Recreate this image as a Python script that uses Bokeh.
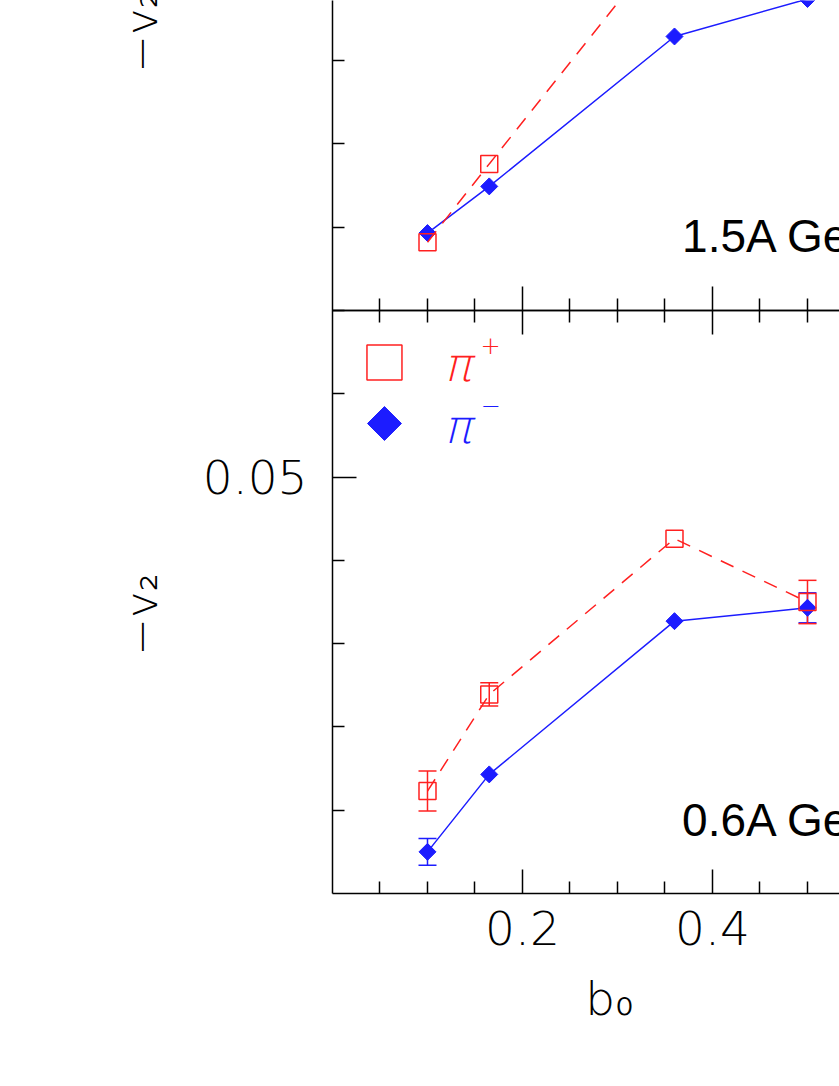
import numpy as np
from bokeh.plotting import figure
from bokeh.models import (Range1d, LinearAxis, FixedTicker, Whisker, TeeHead,
                          ColumnDataSource, Label)
from bokeh.embed import file_html
from bokeh.resources import INLINE

# ---------------- data ----------------
b0 = [0.10, 0.165, 0.36, 0.50]

# 0.6A GeV (lower panel)
v2_pip_06 = [0.0123, 0.0239, 0.0426, 0.0350]
err_pip_06 = [0.0024, 0.0014, 0.0, 0.0026]
v2_pim_06 = [0.0050, 0.0143, 0.0327, 0.0343]
err_pim_06 = [0.0016, 0.0, 0.0, 0.0018]

# 1.5A GeV (upper panel)
v2_pip_15 = [0.0082, 0.0176, 0.0455, 0.0500]
v2_pim_15 = [0.0093, 0.0149, 0.0329, 0.0374]

x_major = [0.2, 0.4, 0.6]
x_minor = [0.05, 0.1, 0.15, 0.25, 0.3, 0.35, 0.45, 0.5, 0.55]
y_major = [0.05]
y_minor = [0.01, 0.02, 0.03, 0.04, 0.06, 0.07]
y_minor_top = [0.01, 0.02, 0.03, 0.04]

panel_labels = ["1.5A GeV", "0.6A GeV"]
series_names = ["π", "π"]
series_charges = ["+", "−"]

RED = "#ff2020"
BLUE = "#1c1cff"
THIN = "DejaVu Sans Light"

# ---------------- figure ----------------
p = figure(width=839, height=1086, output_backend="svg", toolbar_location=None,
           x_range=Range1d(0, 0.5337), y_range=Range1d(0, 0.10722),
           min_border_left=332, min_border_right=0, min_border_top=0,
           min_border_bottom=193)
p.extra_y_ranges = {"top": Range1d(-0.07, 0.03722)}
p.outline_line_color = None
p.grid.visible = False
p.background_fill_color = "white"
p.border_fill_color = "white"


def style_axis(ax, ticks, minor):
    ax.ticker = FixedTicker(ticks=ticks, minor_ticks=minor)
    ax.axis_line_width = 1.5
    ax.axis_line_color = "black"
    ax.major_tick_line_width = 1.5
    ax.minor_tick_line_width = 1.5
    ax.major_tick_line_color = "black"
    ax.minor_tick_line_color = "black"
    ax.major_tick_in = 24
    ax.major_tick_out = 0
    ax.minor_tick_in = 12
    ax.minor_tick_out = 0
    ax.major_label_text_font = THIN
    ax.major_label_text_font_size = "47px"
    ax.major_label_text_color = "black"


def hide_labels(ax):
    ax.major_label_text_font_size = "0px"
    ax.major_label_text_color = None
    ax.major_label_standoff = 0


xa = p.xaxis[0]
style_axis(xa, x_major, x_minor)
xa.major_label_standoff = 17

# left axis: line spans both panels, ticks of the lower panel
ya = p.yaxis[0]
style_axis(ya, y_major, y_minor)
ya.major_label_standoff = 25

# upper panel left ticks (same axis line)
ax_tl = LinearAxis(y_range_name="top", fixed_location=0, bounds=(0, 0.07))
style_axis(ax_tl, y_major, y_minor_top)
ax_tl.axis_line_color = None
hide_labels(ax_tl)
p.add_layout(ax_tl, "left")

# shared boundary between the panels: ticks up (upper) and down (lower)
for side in ("below", "above"):
    ax = LinearAxis(fixed_location=0.07, bounds=(0, 0.6))
    style_axis(ax, x_major, x_minor)
    hide_labels(ax)
    p.add_layout(ax, side)


def add_err(x, y, e, color, range_name="default"):
    xs, lo, hi = [], [], []
    for a, b, d in zip(x, y, e):
        if d > 0:
            xs.append(a)
            lo.append(b - d)
            hi.append(b + d)
    src = ColumnDataSource(dict(x=xs, lo=lo, hi=hi))
    w = Whisker(base="x", lower="lo", upper="hi", source=src, dimension="height",
                line_color=color, line_width=1.5, y_range_name=range_name,
                upper_head=TeeHead(size=18, line_color=color, line_width=1.5),
                lower_head=TeeHead(size=18, line_color=color, line_width=1.5))
    p.add_layout(w)


# lower panel (0.6A GeV)
src06 = ColumnDataSource(dict(x=b0, pip=v2_pip_06, pim=v2_pim_06))
p.line("x", "pim", source=src06, line_color=BLUE, line_width=1.5)
add_err(b0, v2_pim_06, err_pim_06, BLUE)
p.scatter("x", "pim", source=src06, marker="square", angle=np.pi / 4,
          size=12, fill_color=BLUE, line_color=BLUE)
p.line("x", "pip", source=src06, line_color=RED, line_width=1.5, line_dash="14 10")
add_err(b0, v2_pip_06, err_pip_06, RED)
p.scatter("x", "pip", source=src06, marker="square", size=17,
          fill_color=None, line_color=RED, line_width=1.5)

# upper panel (1.5A GeV)
src15 = ColumnDataSource(dict(x=b0, pip=v2_pip_15, pim=v2_pim_15))
p.line("x", "pim", source=src15, line_color=BLUE, line_width=1.5, y_range_name="top")
p.scatter("x", "pim", source=src15, marker="square", angle=np.pi / 4, size=12,
          fill_color=BLUE, line_color=BLUE, y_range_name="top")
p.line("x", "pip", source=src15, line_color=RED, line_width=1.5, line_dash="14 10",
       y_range_name="top")
p.scatter("x", "pip", source=src15, marker="square", size=17, fill_color=None,
          line_color=RED, line_width=1.5, y_range_name="top")

# panel labels
p.add_layout(Label(x=0.368, y=0.00889, y_range_name="top", text=panel_labels[0],
                   text_font="Liberation Sans", text_font_size="46px",
                   text_baseline="middle", text_color="black"))
p.add_layout(Label(x=0.368, y=0.00883, text=panel_labels[1],
                   text_font="Liberation Sans", text_font_size="46px",
                   text_baseline="middle", text_color="black"))

# y axis titles for both panels (placed in the left side panel)
for rn in ("default", "top"):
    p.add_layout(Label(x=-0.2011, y=0.0335, y_range_name=rn, text="−v₂", angle=90,
                       angle_units="deg", text_align="center", text_baseline="middle",
                       text_font=THIN, text_font_size="45px", text_color="black"),
                 "left")

# x axis title
p.add_layout(Label(x=0.2916, y=-0.01261, text="b₀", text_align="center",
                   text_baseline="middle", text_font=THIN, text_font_size="47px",
                   text_color="black"), "below")

# legend (keys + labels)
key_x = [0.0547, 0.0547]
key_y = [0.06376, 0.05643]
sup_dy = [0.00204, 0.00228]
p.scatter([key_x[0]], [key_y[0]], marker="square", size=35, fill_color=None,
          line_color=RED, line_width=1.5)
p.scatter([key_x[1]], [key_y[1]], marker="square", angle=np.pi / 4, size=24,
          fill_color=BLUE, line_color=BLUE)
for i, col in enumerate((RED, BLUE)):
    p.add_layout(Label(x=0.1168, y=key_y[i] - 0.00036, text=series_names[i],
                       text_align="left", text_baseline="middle", text_font=THIN,
                       text_font_size="46px", text_font_style="italic", text_color=col))
    p.add_layout(Label(x=0.1557, y=key_y[i] + sup_dy[i], text=series_charges[i],
                       text_align="left", text_baseline="middle", text_font=THIN,
                       text_font_size="24px", text_color=col))

open("out.html", "w").write(file_html(p, INLINE))
